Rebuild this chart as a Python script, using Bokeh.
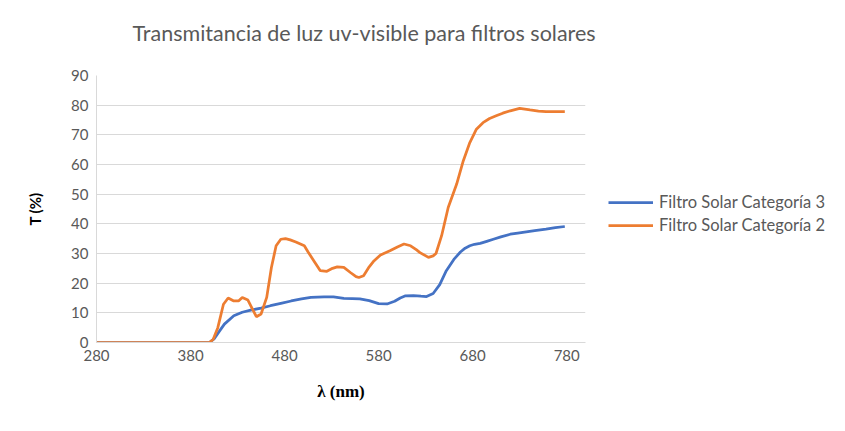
from bokeh.plotting import figure
from bokeh.models import Legend, LegendItem, Range1d, FixedTicker, Title
from bokeh.embed import file_html
from bokeh.resources import INLINE

# Data
wl_cat3 = [280, 400, 405, 410, 416, 426, 435, 444, 455, 465, 476, 487, 498, 508, 515, 522, 532, 543, 552, 560, 570,
           580, 589, 597, 603, 608, 617, 625, 631, 638, 645, 652, 660, 667, 672, 677, 682, 688, 695, 702, 710, 720,
           728, 737, 746, 758, 768, 778]
t_cat3 = [0, 0, 1.2, 3.5, 6.2, 9.0, 10.2, 10.9, 11.6, 12.4, 13.2, 14.0, 14.7, 15.2, 15.3, 15.4, 15.4, 14.9, 14.8, 14.7, 14.1,
          13.1, 13.0, 13.9, 15.0, 15.7, 15.8, 15.6, 15.5, 16.5, 19.5, 24.2, 28.0, 30.5, 31.8, 32.6, 33.1, 33.4, 34.1, 34.8, 35.6, 36.5,
          36.9, 37.3, 37.7, 38.2, 38.7, 39.1]

wl_cat2 = [280, 400, 404, 409, 415, 420, 426, 431, 435, 441, 446, 450, 455, 461, 466, 471, 476, 481, 486, 492, 501, 505,
           510, 518, 525, 531, 536, 543, 550, 556, 559, 564, 570, 575, 582, 592, 600, 607, 614, 620, 624, 633, 638,
           641, 647, 654, 663, 670, 677, 684, 691, 698, 705, 712, 720, 730, 741, 750, 758, 768, 778]
t_cat2 = [0, 0, 1.0, 5.0, 12.9, 15.0, 14.0, 14.0, 15.2, 14.3, 11.2, 8.7, 9.6, 15.2, 25.3, 32.6, 34.8, 35.0, 34.6, 33.9, 32.6, 30.5,
          28.1, 24.2, 24.0, 25.0, 25.5, 25.3, 23.6, 22.2, 21.9, 22.5, 25.5, 27.5, 29.5, 30.9, 32.2, 33.2, 32.6, 31.3, 30.3, 28.7, 29.2,
          30.0, 36.0, 45.5, 53.4, 61.2, 67.4, 71.9, 74.1, 75.5, 76.4, 77.3, 78.1, 78.9, 78.4, 78.0, 77.8, 77.8, 77.8]

x_ticks = [280, 380, 480, 580, 680, 780]
y_ticks = [0, 10, 20, 30, 40, 50, 60, 70, 80, 90]

title_text = "Transmitancia de luz uv-visible para filtros solares"
x_label = "λ (nm)"
y_label = "T (%)"
names = ["Filtro Solar Categoría 3", "Filtro Solar Categoría 2"]

gray = "#595959"
grid = "#d9d9d9"

p = figure(frame_width=489, frame_height=267, output_backend="svg", toolbar_location=None,
           x_range=Range1d(280, 800), y_range=Range1d(0, 90),
           min_border_left=96, min_border_right=0, min_border_top=75, min_border_bottom=73)

p.title.text = title_text
p.title.text_font = "Lato"
p.title.text_font_size = "21.5px"
p.title.text_font_style = "normal"
p.title.text_color = gray
p.title.align = "left"
p.title.offset = 36
p.title.standoff = 10

# spacer between the title and the plot area
spacer = Title(text=" ", text_font_size="10px", text_color="white", standoff=12)
p.add_layout(spacer, "above")

p.outline_line_color = None
p.background_fill_color = "white"
p.border_fill_color = "white"

p.xaxis.ticker = FixedTicker(ticks=x_ticks)
p.yaxis.ticker = FixedTicker(ticks=y_ticks)
p.xgrid.grid_line_color = None
p.ygrid.grid_line_color = grid
p.ygrid.grid_line_width = 1

for ax in (p.xaxis, p.yaxis):
    ax.axis_line_color = grid
    ax.axis_line_width = 1
    ax.major_tick_line_color = None
    ax.minor_tick_line_color = None
    ax.major_label_text_font = "Lato"
    ax.major_label_text_font_size = "15px"
    ax.major_label_text_color = gray
    ax.axis_label_text_font_style = "bold"
    ax.axis_label_text_color = "black"

p.xaxis.axis_label = x_label
p.yaxis.axis_label = y_label
p.xaxis.axis_label_text_font = "Liberation Serif"
p.xaxis.axis_label_text_font_size = "17px"
p.yaxis.axis_label_text_font = "Lato"
p.yaxis.axis_label_text_font_size = "15px"
p.xaxis.major_label_standoff = 1
p.yaxis.major_label_standoff = 2
p.xaxis.axis_label_standoff = 18
p.yaxis.axis_label_standoff = 24

r1 = p.line(wl_cat3, t_cat3, line_color="#4472C4", line_width=2.75)
r2 = p.line(wl_cat2, t_cat2, line_color="#ED7D31", line_width=2.75)

legend = Legend(items=[LegendItem(label=names[0], renderers=[r1]),
                       LegendItem(label=names[1], renderers=[r2])],
                location=(23, 107), orientation="vertical")
legend.border_line_color = None
legend.background_fill_alpha = 0
legend.label_text_font = "Lato"
legend.label_text_font_size = "16.5px"
legend.label_text_color = gray
legend.glyph_width = 45
legend.glyph_height = 20
legend.label_height = 20
legend.spacing = 3
legend.padding = 0
legend.margin = 0
legend.label_standoff = 6
p.add_layout(legend, "right")

open("out.html", "w").write(file_html(p, INLINE))
